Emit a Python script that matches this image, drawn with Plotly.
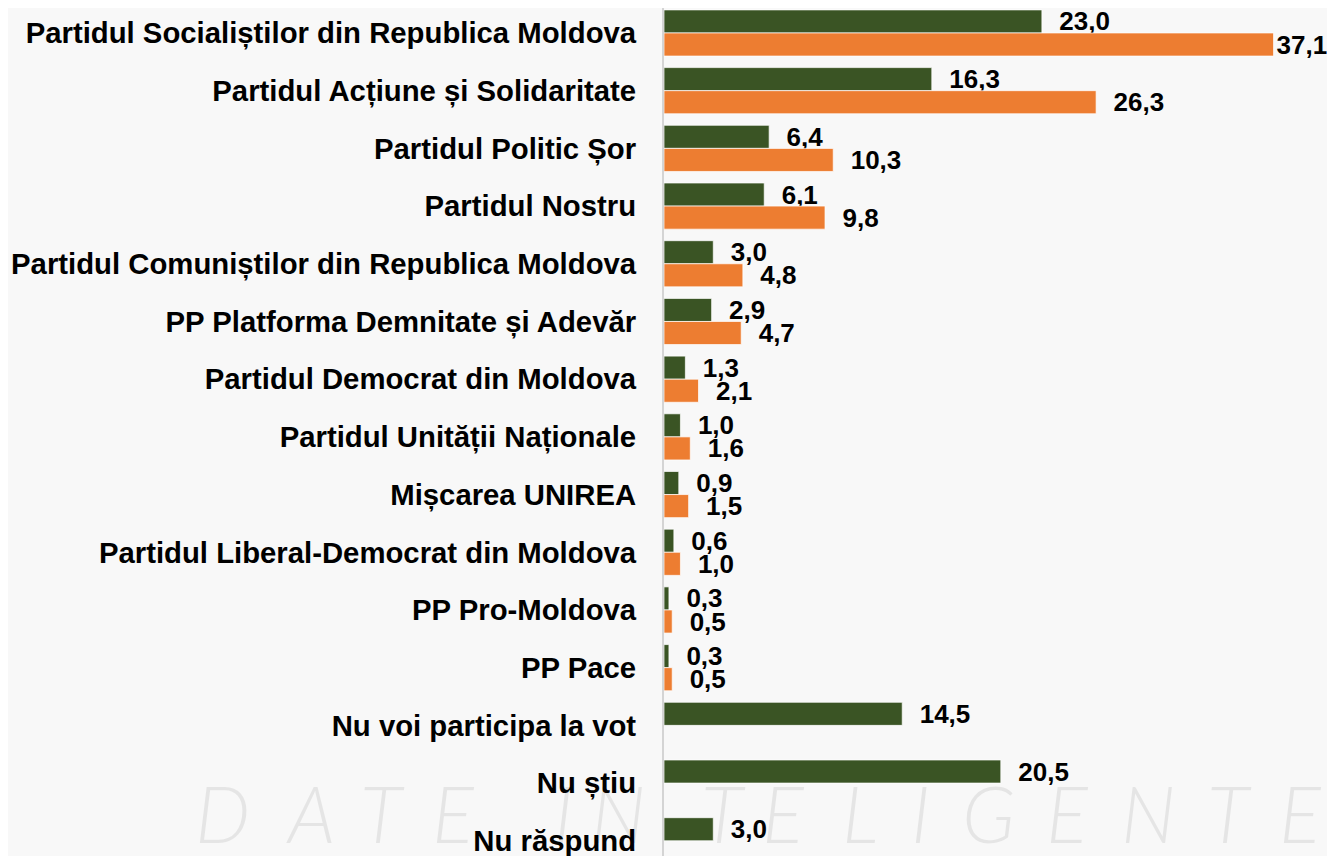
import plotly.graph_objects as go

categories = [
    "Partidul Socialiștilor din Republica Moldova",
    "Partidul Acțiune și Solidaritate",
    "Partidul Politic Șor",
    "Partidul Nostru",
    "Partidul Comuniștilor din Republica Moldova",
    "PP Platforma Demnitate și Adevăr",
    "Partidul Democrat din Moldova",
    "Partidul Unității Naționale",
    "Mișcarea UNIREA",
    "Partidul Liberal-Democrat din Moldova",
    "PP Pro-Moldova",
    "PP Pace",
    "Nu voi participa la vot",
    "Nu știu",
    "Nu răspund",
]
series_all = [23.0, 16.3, 6.4, 6.1, 3.0, 2.9, 1.3, 1.0, 0.9, 0.6, 0.3, 0.3, 14.5, 20.5, 3.0]
series_decided = [37.1, 26.3, 10.3, 9.8, 4.8, 4.7, 2.1, 1.6, 1.5, 1.0, 0.5, 0.5, None, None, None]
watermark_letters = list("DATEINTELIGENTE")

GREEN = "#3a5424"
ORANGE = "#ed7d31"
FONT = "Liberation Sans, Arial, sans-serif"

# page has 8px body margin, so the figure is sized to fit the window
W, H = 1327, 848
L_MARGIN = 656
X_MAX = 40.84
WATERMARK_X = [222, 310, 382, 453, 563, 618, 723, 783, 860, 920, 988, 1067, 1148, 1229, 1300]


def fmt(v):
    if v is None:
        return ""
    s = f"{v:.1f}".replace(".", ",")
    # labels near the right edge are pulled in so they stay inside the chart
    pad = "" if v > X_MAX - 4 else "\u00a0\u00a0"
    return pad + s


fig = go.Figure()

for ch, pxl in zip(watermark_letters, WATERMARK_X):
    px = pxl - 8
    py = 813 - 8
    fig.add_annotation(
        xref="paper", yref="paper",
        x=(px - L_MARGIN) / (W - L_MARGIN), y=(H - py) / H,
        xanchor="center", yanchor="middle", text=ch, showarrow=False,
        font=dict(family="Lato, DejaVu Sans, sans-serif", size=78,
                  color="rgba(0,0,0,0.075)", style="italic", weight=300),
    )

fig.add_trace(go.Bar(
    y=categories, x=series_all, orientation="h", name="Total",
    marker=dict(color=GREEN, line=dict(color="rgba(255,255,255,0.7)", width=1)),
    text=[fmt(v) for v in series_all], textposition="outside", cliponaxis=False,
    constraintext="none",
    textfont=dict(family=FONT, size=26, color="black", weight="bold"),
))
fig.add_trace(go.Bar(
    y=categories, x=series_decided, orientation="h", name="Decided",
    marker=dict(color=ORANGE, line=dict(color="rgba(255,255,255,0.7)", width=1)),
    text=[fmt(v) for v in series_decided], textposition="outside", cliponaxis=False,
    constraintext="none",
    textfont=dict(family=FONT, size=26, color="black", weight="bold"),
))

fig.update_layout(
    width=W, height=H,
    margin=dict(l=L_MARGIN, r=0, t=0, b=0, autoexpand=False),
    barmode="group", bargap=0.2, bargroupgap=0.0,
    showlegend=False,
    paper_bgcolor="#f8f8f8", plot_bgcolor="rgba(0,0,0,0)",
)
fig.update_xaxes(range=[0, X_MAX], showgrid=False, zeroline=False, showticklabels=False,
                 showline=False, fixedrange=True, automargin=False)
fig.update_yaxes(
    range=[14.264, -0.433], showgrid=False, zeroline=False, automargin=False,
    showline=True, linecolor="#d4d4d4", linewidth=2,
    ticks="", ticklabelstandoff=20,
    tickfont=dict(family=FONT, size=29.3, color="black", weight="bold"),
)

fig.write_html("out.html")
